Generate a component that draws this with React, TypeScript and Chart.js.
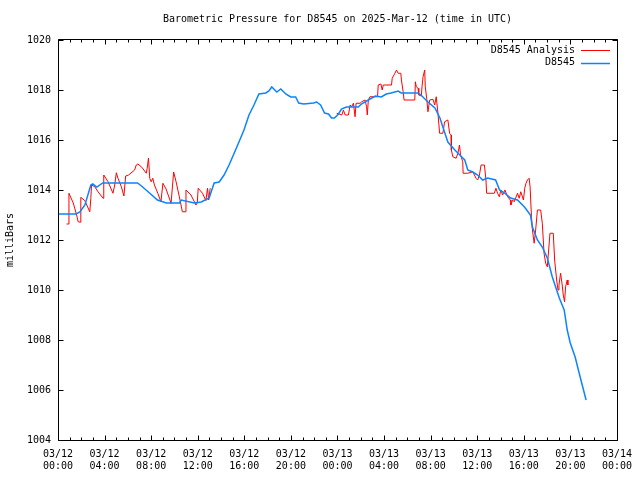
import React, { useEffect, useRef } from 'react';
import { Chart, registerables } from 'chart.js';

Chart.register(...registerables);

const TITLE = 'Barometric Pressure for D8545 on 2025-Mar-12 (time in UTC)';
const Y_LABEL = 'milliBars';
const FONT = '"DejaVu Sans Mono", "Liberation Mono", monospace';

const X_TICK_DATES = ['03/12', '03/12', '03/12', '03/12', '03/12', '03/12', '03/13', '03/13', '03/13', '03/13', '03/13', '03/13', '03/14'];
const X_TICK_TIMES = ['00:00', '04:00', '08:00', '12:00', '16:00', '20:00', '00:00', '04:00', '08:00', '12:00', '16:00', '20:00', '00:00'];
const Y_TICKS = [1004, 1006, 1008, 1010, 1012, 1014, 1016, 1018, 1020];

const ANALYSIS_LABEL = 'D8545 Analysis';
const OBS_LABEL = 'D8545';

// hours since 2025-03-12 00:00 UTC
const analysisHours = [
  0.74, 0.88, 0.94, 1.31, 1.6, 1.73, 1.94, 1.96, 2.31, 2.73,
  2.82, 2.88, 3.16, 3.44, 3.87, 3.93, 4.3, 4.72, 4.87, 5.01,
  5.15, 5.44, 5.66, 5.81, 6.06, 6.58, 6.72, 6.86, 7.2, 7.58,
  7.66, 7.77, 7.88, 8.0, 8.14, 8.28, 8.57, 8.84, 9.01, 9.28,
  9.71, 9.93, 10.14, 10.42, 10.68, 10.91, 10.99, 11.42, 11.85, 11.96,
  12.04, 12.41, 12.7, 12.84, 12.94, 13.07,
  18.0,
  23.94, 24.37, 24.51, 24.66, 24.94, 25.09, 25.22, 25.37, 25.51, 25.6,
  25.94, 26.08, 26.37, 26.5, 26.56, 26.65, 26.79, 27.44, 27.5, 27.73,
  27.84, 27.93, 28.64, 28.7, 28.93, 29.07, 29.21, 29.44, 29.49, 29.64,
  29.72, 30.64, 30.69, 30.77, 30.92, 30.98, 31.2, 31.26, 31.35, 31.49,
  31.54, 31.66, 31.77, 31.92, 32.2, 32.35, 32.48, 32.63, 32.77, 33.05,
  33.2, 33.48, 33.63, 33.76, 33.78, 33.91, 34.19, 34.34, 34.48, 34.57,
  34.76, 34.79, 35.19, 35.62, 35.9, 36.04, 36.19, 36.33, 36.62, 36.75,
  36.81, 37.47, 37.61, 37.75, 37.9, 38.03, 38.18, 38.38, 38.61, 38.84,
  38.89, 39.03, 39.18, 39.46, 39.61, 39.74, 39.97, 40.08, 40.19, 40.31,
  40.46, 40.54, 40.66, 40.74, 40.89, 41.02, 41.17, 41.45, 41.59, 41.74,
  41.88, 42.02, 42.25, 42.53, 42.65, 42.82, 42.94, 43.02, 43.16, 43.3,
  43.39, 43.5, 43.59, 43.73, 43.79,
];
const analysisValues: (number | null)[] = [
  1012.64, 1012.64, 1013.87, 1013.48, 1013.0, 1012.73, 1012.71, 1013.71, 1013.57, 1013.13,
  1013.67, 1014.2, 1014.13, 1013.93, 1013.67, 1014.6, 1014.33, 1013.87, 1014.2, 1014.69,
  1014.47, 1014.13, 1013.76, 1014.56, 1014.6, 1014.8, 1015.0, 1015.04, 1014.91, 1014.67,
  1014.87, 1015.28, 1014.47, 1014.33, 1014.47, 1014.2, 1013.87, 1013.53, 1014.27, 1014.04,
  1013.47, 1014.72, 1014.33, 1013.73, 1013.13, 1013.13, 1014.0, 1013.8, 1013.4, 1013.48,
  1014.07, 1013.87, 1013.58, 1014.07, 1013.6, 1014.07,
  null,
  1017.07, 1017.0, 1017.2, 1017.0, 1017.0, 1017.4, 1017.33, 1017.47, 1016.93, 1017.47,
  1017.47, 1017.53, 1017.6, 1017.33, 1017.0, 1017.6, 1017.73, 1017.73, 1018.2, 1018.24,
  1018.0, 1018.2, 1018.2, 1018.47, 1018.67, 1018.8, 1018.67, 1018.67, 1018.4, 1017.93,
  1017.6, 1017.6, 1018.33, 1018.13, 1018.07, 1017.8, 1017.76, 1018.13, 1018.53, 1018.8,
  1018.13, 1017.67, 1017.13, 1017.6, 1017.63, 1017.4, 1017.73, 1017.07, 1016.27, 1016.27,
  1016.73, 1016.8, 1016.27, 1016.2, 1015.6, 1015.33, 1015.27, 1015.47, 1015.8, 1015.4,
  1015.13, 1014.67, 1014.67, 1014.73, 1014.47, 1014.4, 1014.6, 1015.0, 1015.0, 1014.4,
  1013.87, 1013.87, 1014.07, 1013.87, 1013.73, 1014.0, 1013.8, 1014.0, 1013.73, 1013.6,
  1013.4, 1013.6, 1013.53, 1013.87, 1013.67, 1013.93, 1013.6, 1014.07, 1014.27, 1014.4,
  1014.47, 1014.13, 1012.93, 1012.4, 1011.87, 1012.4, 1013.2, 1013.2, 1012.67, 1011.47,
  1011.07, 1010.93, 1012.27, 1012.27, 1011.2, 1010.4, 1010.0, 1010.2, 1010.67, 1010.2,
  1009.8, 1009.53, 1010.13, 1010.4, 1010.2,
];

const obsHours = [
  0, 1.54, 1.88, 2.31, 2.82, 2.99, 3.33, 3.84, 6.83, 7.17,
  7.86, 8.54, 9.31, 10.42, 10.59, 11.7, 12.3, 12.98, 13.41, 13.84,
  14.26, 14.69, 14.95, 15.54, 15.97, 16.4, 16.83, 17.25, 17.85, 18.11,
  18.36, 18.79, 19.13, 19.56, 19.99, 20.41, 20.67, 21.1, 21.95, 22.21,
  22.55, 22.89, 23.23, 23.49, 23.74, 24.09, 24.34, 24.77, 25.79, 26.05,
  26.65, 27.25, 27.76, 28.19, 28.61, 29.21, 29.47, 29.89, 30.92, 31.17,
  31.77, 32.37, 32.8, 33.05, 33.48, 34.08, 34.51, 34.93, 35.19, 35.62,
  36.04, 36.47, 36.9, 37.58, 37.92, 38.35, 38.86, 39.46, 40.06, 40.57,
  40.74, 41.17, 41.59, 42.02, 42.45, 43.05, 43.47, 43.73, 43.99, 44.41,
  44.84, 45.35,
];
const obsValues = [
  1013.04, 1013.04, 1013.12, 1013.4, 1014.2, 1014.24, 1014.12, 1014.28, 1014.28, 1014.16,
  1013.88, 1013.6, 1013.48, 1013.48, 1013.6, 1013.48, 1013.52, 1013.68, 1014.28, 1014.32,
  1014.6, 1015.0, 1015.28, 1015.92, 1016.4, 1017.0, 1017.4, 1017.84, 1017.88, 1017.96,
  1018.12, 1017.92, 1018.04, 1017.84, 1017.72, 1017.72, 1017.48, 1017.44, 1017.48, 1017.52,
  1017.4, 1017.08, 1017.04, 1016.88, 1016.88, 1017.04, 1017.24, 1017.32, 1017.32, 1017.44,
  1017.6, 1017.76, 1017.72, 1017.84, 1017.88, 1017.96, 1017.88, 1017.88, 1017.88, 1017.8,
  1017.52, 1017.28, 1016.88, 1016.52, 1015.92, 1015.6, 1015.4, 1015.2, 1014.8, 1014.72,
  1014.6, 1014.4, 1014.48, 1014.4, 1014.0, 1013.88, 1013.68, 1013.6, 1013.32, 1013.0,
  1012.52, 1012.0, 1011.72, 1011.28, 1010.52, 1009.68, 1009.2, 1008.4, 1007.88, 1007.32,
  1006.52, 1005.6,
];

const RED = '#ff0000';
const BLUE = '#0a84ff';

const gnuplotPlugin = {
  id: 'gnuplotFrame',
  afterDraw(chart: any) {
    const { ctx, chartArea: a, scales } = chart;
    const xs = scales.x;
    const ys = scales.y;
    ctx.save();
    ctx.strokeStyle = '#000';
    ctx.lineWidth = 1;
    ctx.beginPath();
    const L = Math.round(a.left) + 0.5;
    const R = Math.round(a.right) + 0.5;
    const T = Math.round(a.top) - 0.5;
    const B = Math.round(a.bottom) + 0.5;
    ctx.moveTo(L, T); ctx.lineTo(R, T); ctx.lineTo(R, B); ctx.lineTo(L, B); ctx.closePath();
    // x ticks (major every 4h, minor every 1h), mirrored on top
    for (let v = xs.min; v <= xs.max; v += 1) {
      const px = Math.round(xs.getPixelForValue(v)) + 0.5;
      const len = v % 4 === 0 ? 5 : 3;
      ctx.moveTo(px, B); ctx.lineTo(px, B - len);
      ctx.moveTo(px, T); ctx.lineTo(px, T + len);
    }
    for (const v of Y_TICKS) {
      const py = Math.round(ys.getPixelForValue(v)) + 0.5;
      ctx.moveTo(L, py); ctx.lineTo(L + 5, py);
      ctx.moveTo(R, py); ctx.lineTo(R - 5, py);
    }
    ctx.stroke();

    // title
    ctx.fillStyle = '#000';
    ctx.font = `10px ${FONT}`;
    ctx.textAlign = 'center';
    ctx.textBaseline = 'middle';
    ctx.fillText(TITLE, (a.left + a.right) / 2, 19);

    // legend
    ctx.textAlign = 'right';
    chart.data.datasets.forEach((ds: any, i: number) => {
      const y = 50 + i * 12.5;
      ctx.fillStyle = '#000';
      ctx.fillText(ds.label, 575, y);
      ctx.strokeStyle = ds.borderColor;
      ctx.lineWidth = ds.borderWidth;
      ctx.beginPath();
      ctx.moveTo(581, Math.round(y) + 0.5);
      ctx.lineTo(610, Math.round(y) + 0.5);
      ctx.stroke();
    });
    ctx.restore();
  },
};

export default function App() {
  const ref = useRef<HTMLCanvasElement | null>(null);
  useEffect(() => {
    document.body.style.margin = '0';
    const canvas = ref.current;
    if (!canvas) return;
    const chart = new Chart(canvas, {
      type: 'line',
      data: {
        datasets: [
          {
            label: ANALYSIS_LABEL,
            data: analysisHours.map((h, i) => ({ x: h, y: analysisValues[i] })),
            borderColor: RED,
            borderWidth: 1,
            pointRadius: 0,
            tension: 0,
            spanGaps: false,
            order: 2,
          },
          {
            label: OBS_LABEL,
            data: obsHours.map((h, i) => ({ x: h, y: obsValues[i] })),
            borderColor: BLUE,
            borderWidth: 1.5,
            pointRadius: 0,
            tension: 0,
            order: 1,
          },
        ],
      },
      options: {
        animation: false,
        responsive: false,
        devicePixelRatio: 1,
        layout: { padding: { top: 40, right: 19, bottom: 0, left: 0 } },
        plugins: {
          legend: { display: false },
          title: { display: false },
          tooltip: { enabled: false },
        },
        scales: {
          x: {
            type: 'linear',
            min: 0,
            max: 48,
            grid: { display: false, drawTicks: false },
            border: { display: false },
            afterFit: (s: any) => { s.height = 40; },
            ticks: {
              stepSize: 4,
              autoSkip: false,
              maxRotation: 0,
              padding: 8,
              color: '#000',
              font: { family: FONT, size: 10, lineHeight: 1.25 },
              callback: (v: any) => {
                const i = Math.round(Number(v) / 4);
                return [X_TICK_DATES[i], X_TICK_TIMES[i]];
              },
            },
          },
          y: {
            type: 'linear',
            min: 1004,
            max: 1020,
            grid: { display: false, drawTicks: false },
            border: { display: false },
            afterFit: (s: any) => { s.width = 58; },
            title: {
              display: true,
              text: Y_LABEL,
              color: '#000',
              font: { family: FONT, size: 10, lineHeight: 1.2 },
              padding: { top: 4, bottom: 0 },
            },
            ticks: {
              stepSize: 2,
              padding: 7,
              color: '#000',
              font: { family: FONT, size: 10 },
              callback: (v: any) => String(Math.round(Number(v))),
            },
          },
        },
      },
      plugins: [gnuplotPlugin],
    });
    return () => chart.destroy();
  }, []);
  return (
    <div style={{ position: 'fixed', left: 0, top: 0, width: 640, height: 480, background: '#fff' }}>
      <canvas ref={ref} width={640} height={480} />
    </div>
  );
}
